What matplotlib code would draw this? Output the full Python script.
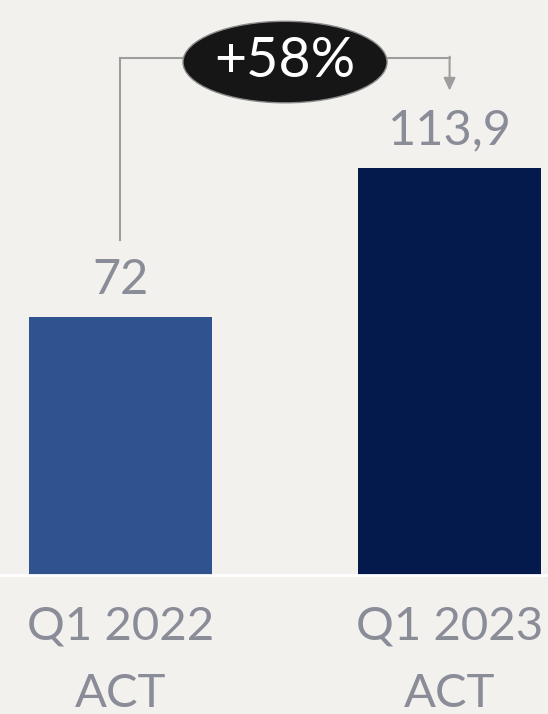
import matplotlib.pyplot as plt
from matplotlib.patches import Ellipse

categories = ["Q1 2022\nACT", "Q1 2023\nACT"]
values = [72, 113.9]
value_labels = ["72", "113,9"]
growth_label = "+58%"

bg = "#f2f1ee"
bar_colors = ["#30538f", "#041a4d"]
text_gray = "#8a8c98"
line_gray = "#9e9e9e"

plt.rcParams['font.family'] = ['Lato', 'DejaVu Sans']

fig = plt.figure(figsize=(5.48, 7.14), dpi=100, facecolor=bg)
ax = fig.add_axes([0, 0, 1, 1])
ax.set_facecolor(bg)

x = [0, 1]
ax.bar(x, values, width=0.556, color=bar_colors, zorder=2)
ax.set_xlim(-0.366, 1.299)
ax.set_ylim(-38.86, 160.75)
ax.axis('off')

# baseline
ax.axhline(0, color="white", lw=2, zorder=3)

# value labels
for xi, v, lab in zip(x, values, value_labels):
    ax.annotate(lab, (xi, v), xytext=(0, 11), textcoords="offset points",
                ha="center", va="bottom", fontsize=35, color=text_gray)

# category labels
for xi, lab in zip(x, categories):
    ax.annotate(lab, (xi, 0), xytext=(0, -22), textcoords="offset points",
                ha="center", va="top", fontsize=34, color=text_gray,
                linespacing=1.75)

# connector from first bar to second bar
top_y = values[1] + 30.7
ax.plot([x[0], x[0]], [values[0] + 21.7, top_y], color=line_gray, lw=1.5, zorder=1)
ax.plot([x[0], 0.5], [top_y, top_y], color=line_gray, lw=1.5, zorder=1)
ax.plot([0.5, x[1]], [top_y, top_y], color=line_gray, lw=1.5, zorder=1)
ax.annotate("", xy=(x[1], values[1] + 21.5), xytext=(x[1], top_y + 0.3),
            arrowprops=dict(arrowstyle="-|>,head_length=0.75,head_width=0.35",
                            color=line_gray, lw=1.5, shrinkA=0, shrinkB=0))

# growth bubble
ell = Ellipse((0.5, 143.4), 0.62, 22.8, facecolor="#161616",
              edgecolor="#8a8a8a", lw=1, zorder=4)
ax.add_patch(ell)
ax.text(0.5, 143.6, growth_label, ha="center", va="center",
        fontsize=40, color="white", zorder=5)

fig.savefig("out.png", dpi=100, facecolor=bg)
